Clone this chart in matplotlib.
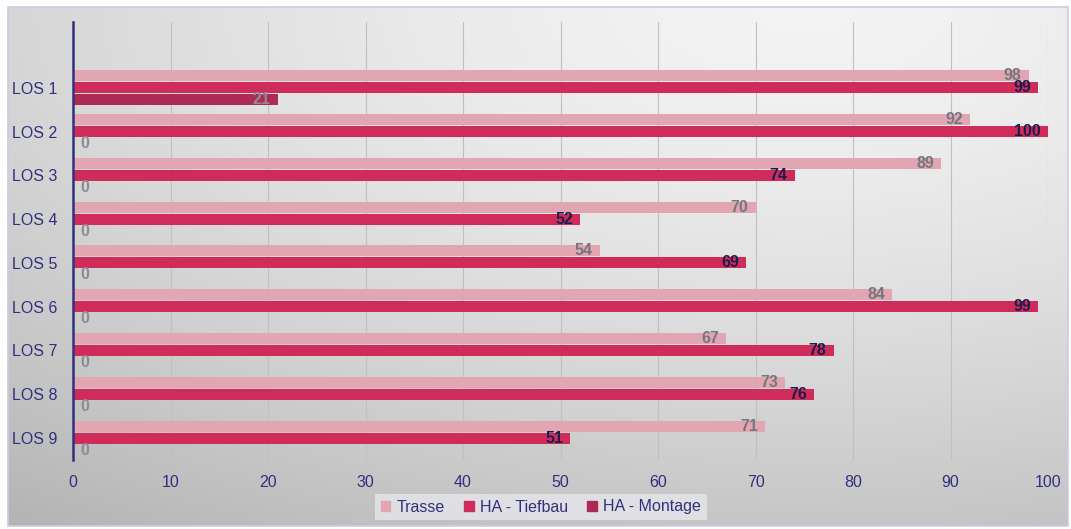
import numpy as np
import matplotlib
matplotlib.use("Agg")
import matplotlib.pyplot as plt
from matplotlib.patches import Patch, Rectangle
from matplotlib.transforms import offset_copy

plt.rcParams["font.family"] = ["Liberation Sans", "DejaVu Sans"]

categories = ["LOS 1", "LOS 2", "LOS 3", "LOS 4", "LOS 5", "LOS 6", "LOS 7", "LOS 8", "LOS 9"]
trasse = [98, 92, 89, 70, 54, 84, 67, 73, 71]
tiefbau = [99, 100, 74, 52, 69, 99, 78, 76, 51]
montage = [21, 0, 0, 0, 0, 0, 0, 0, 0]
series_names = ["Trasse", "HA - Tiefbau", "HA - Montage"]
x_ticks = [0, 10, 20, 30, 40, 50, 60, 70, 80, 90, 100]

W, H = 1071, 529
fig = plt.figure(figsize=(W / 100, H / 100), dpi=100)
fig.patch.set_facecolor("white")

# background gradient panel
bg = fig.add_axes([8 / W, 1 - 526 / H, 1060 / W, 519 / H], zorder=-5)
gx, gy = np.meshgrid(np.linspace(0, 1, 400), np.linspace(0, 1, 200))
d = np.sqrt((gx - 0.75) ** 2 + gy ** 2)
img = 0.955 - 0.18 * d ** 1.5
bg.imshow(np.dstack([img, img, img]), aspect="auto", extent=[0, 1, 0, 1], origin="upper")
bg.set_xlim(0, 1); bg.set_ylim(0, 1)
bg.axis("off")
fig.patches.append(Rectangle((8 / W, 1 - 526 / H), 1060 / W, 519 / H, transform=fig.transFigure,
                             fill=False, edgecolor="#cfcbe3", linewidth=1.2, zorder=10))

ax = fig.add_axes([73 / W, 1 - 460 / H, 975 / W, 438 / H])
ax.set_facecolor("none")

y = np.arange(len(categories))
off = 0.273
h = 0.25
c_tr, c_tb, c_mo = "#e2a6b2", "#cf2c5c", "#ad2a55"
b1 = ax.barh(y - off, trasse, height=h, color=c_tr, zorder=3)
b2 = ax.barh(y, tiefbau, height=h, color=c_tb, zorder=3)
b3 = ax.barh(y + off, montage, height=h, color=c_mo, zorder=3)

def label(bars, vals, color):
    for rect, v in zip(bars, vals):
        yc = rect.get_y() + rect.get_height() / 2
        if v < 3:
            tr = offset_copy(ax.transData, fig=fig, x=5.5, y=0, units="points")
            ax.text(v, yc, str(v), transform=tr, ha="left", va="center",
                    fontsize=11.5, fontweight="bold", color=color, zorder=5)
        else:
            tr = offset_copy(ax.transData, fig=fig, x=-5, y=0, units="points")
            ax.text(v, yc, str(v), transform=tr, ha="right", va="center",
                    fontsize=11.5, fontweight="bold", color=color, zorder=5)

label(b1, trasse, "#76767e")
label(b2, tiefbau, "#1d1d4d")
label(b3, montage, "#8c8c94")

ax.set_xlim(0, 100)
ax.set_ylim(8.5, -1.5)
ax.set_yticks(y)
ax.set_yticklabels(categories)
ax.set_xticks(x_ticks)
ax.tick_params(axis="both", length=0, labelsize=11.5, labelcolor="#30307e")
ax.tick_params(axis="x", pad=11)
ax.tick_params(axis="y", pad=11)
ax.grid(axis="x", color="#bfbfc4", linewidth=0.8, zorder=0)
for s in ["top", "right", "bottom"]:
    ax.spines[s].set_visible(False)
ax.spines["left"].set_color("#30307e")
ax.spines["left"].set_linewidth(1.8)
ax.spines["left"].set_zorder(6)

handles = [Patch(color=c, label=n) for c, n in zip([c_tr, c_tb, c_mo], series_names)]
leg = fig.legend(handles=handles, loc="center", bbox_to_anchor=(541 / W, 1 - 507 / H), ncol=3,
                 frameon=True, fontsize=11.5, handlelength=0.6, handleheight=0.6,
                 handletextpad=0.4, columnspacing=1.2, borderpad=0.35, fancybox=False)
leg.get_frame().set_facecolor("#e6e6ec")
leg.get_frame().set_edgecolor("none")
for txt in leg.get_texts():
    txt.set_color("#30307e")

fig.savefig("out.png", dpi=100)
